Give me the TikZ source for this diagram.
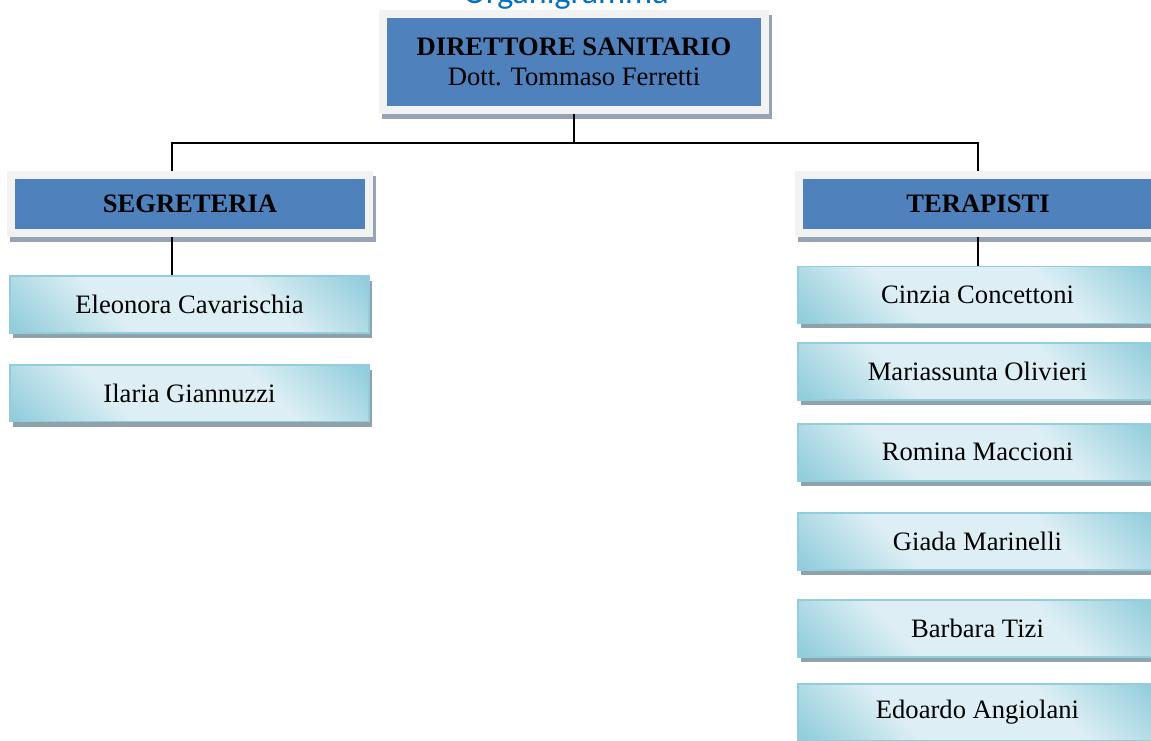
\documentclass[tikz,border=0pt]{standalone}
\usepackage{fontspec}
\setmainfont{Liberation Serif}
\newfontfamily\titlefont{Carlito}
\usepackage{xcolor}
\usetikzlibrary{positioning}
\definecolor{headblue}{HTML}{4F81BD}
\definecolor{headframe}{HTML}{F2F2F2}
\definecolor{headshadow}{HTML}{97A3B4}
\definecolor{staffpale}{HTML}{DDEFF4}
\definecolor{staffdark}{HTML}{93CDDC}
\definecolor{staffedge}{HTML}{92CDDC}
\definecolor{staffshadow}{HTML}{8FA2AC}
\definecolor{titleblue}{HTML}{0070C0}
\pgfdeclareverticalshading{staffshade}{100bp}{%
  color(0bp)=(staffdark); color(16bp)=(staffdark); color(36bp)=(staffpale);
  color(64bp)=(staffpale); color(84bp)=(staffdark); color(100bp)=(staffdark)}

\begin{document}
\begin{tikzpicture}[x=0.5pt,y=-0.5pt,
    head/.style={%
      rectangle, fill=headblue, draw=headframe, line width=4pt, inner sep=0pt,
      minimum width=179pt, minimum height=29pt, align=center,
      font=\fontsize{13.3}{15}\selectfont,
      preaction={draw=headshadow, fill=headshadow,
        transform canvas={shift={(1.5pt,-2.5pt)}}}},
    staff/.style={%
      rectangle, draw=staffedge, line width=0.8pt, inner sep=0pt,
      minimum width=179.5pt, minimum height=28.45pt,
      shade, shading=staffshade, shading angle=135,
      font=\fontsize{13.3}{15}\selectfont,
      preaction={fill=staffshadow,
        transform canvas={shift={(1.5pt,-2.5pt)}}}},
    wire/.style={draw=black, line width=0.8pt}
  ]
    \useasboundingbox (0,0) rectangle (1151,740);

    \node[font=\titlefont\fontsize{17}{20}\selectfont, text=titleblue, anchor=base]
      (title) at (566,3.5) {Organigramma};

    \node[head, minimum width=191pt, minimum height=48pt] (dir) at (574,62)
      {\textbf{DIRETTORE SANITARIO}\\Dott. Tommaso Ferretti};
    \node[head] (segr)  at (190,204) {\textbf{SEGRETERIA}};
    \node[head] (terap) at (978,204) {\textbf{TERAPISTI}};

    % segreteria
    \node[staff] (eleo) at (189.5,304.5)            {Eleonora Cavarischia};
    \node[staff] (ilaria) [below=15.1pt of eleo]    {Ilaria Giannuzzi};

    % terapisti
    \node[staff] (cinzia) at (977.5,295)             {Cinzia Concettoni};
    \node[staff] (mari)    [below=8.9pt of cinzia]   {Mariassunta Olivieri};
    \node[staff] (romina)  [below=11.25pt of mari]   {Romina Maccioni};
    \node[staff] (giada)   [below=15.25pt of romina] {Giada Marinelli};
    \node[staff] (barbara) [below=14.25pt of giada]  {Barbara Tizi};
    \node[staff] (edoardo) [below=12.75pt of barbara] {Edoardo Angiolani};

    \coordinate (bus) at (dir.south |- 0,143);
    \draw[wire] (dir.south) -- (bus) -| ([xshift=-9pt]segr.north);
    \draw[wire] (bus) -| (terap.north);
    \draw[wire] ([xshift=-9pt]segr.south) -- ([xshift=-9pt]segr.south |- eleo.north);
    \draw[wire] (terap.south) -- (terap.south |- cinzia.north);
  \end{tikzpicture}
\end{document}
